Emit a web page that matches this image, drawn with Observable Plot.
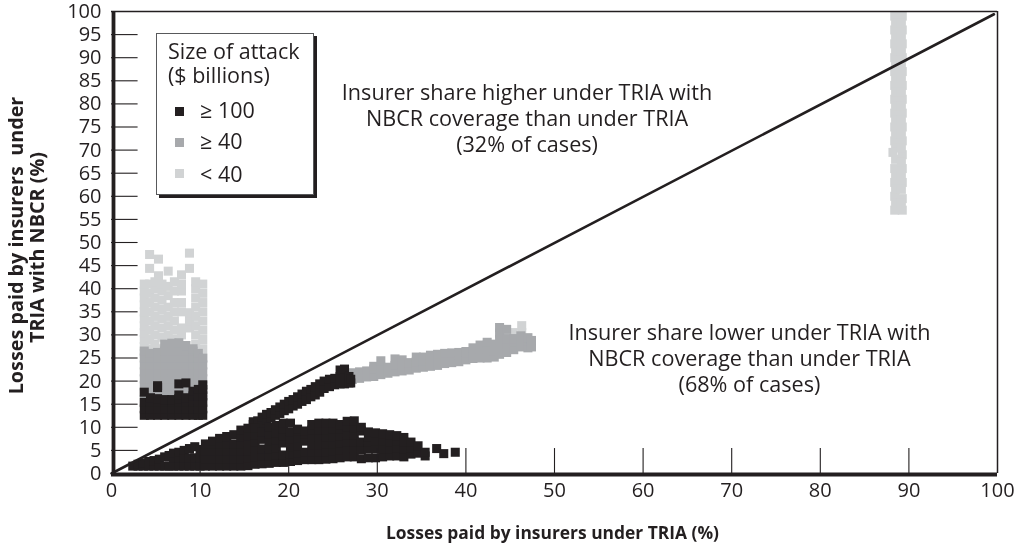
<!DOCTYPE html>
<html><head><meta charset="utf-8">
<script src="https://cdn.jsdelivr.net/npm/d3@7"></script>
<script src="https://cdn.jsdelivr.net/npm/@observablehq/plot@0.6"></script>
<style>
html,body{margin:0;background:#fff;}
#wrap{position:relative;width:1018px;height:546px;overflow:hidden;font-family:"Open Sans",sans-serif;color:#231f20;filter:blur(0.35px);}
#legend{position:absolute;left:156px;top:33px;width:156px;height:160px;background:#fff;border:1px solid #58595b;box-shadow:3px 3px 0 #231f20;font-size:21.5px;line-height:21px;}
#legend .t{position:absolute;left:11px;white-space:nowrap;}
#legend .s{position:absolute;left:18px;width:9px;height:9px;}
</style></head><body><div id="wrap"><div id="chart"></div>
<div id="legend">
<div class="t" style="top:6px">Size of attack</div>
<div class="t" style="top:30px">($ billions)</div>
<div class="s" style="top:73px;background:#231f20"></div><div class="t" style="left:43px;top:65px">≥ 100</div>
<div class="s" style="top:104px;background:#a7a9ac"></div><div class="t" style="left:43px;top:96px">≥ 40</div>
<div class="s" style="top:135px;background:#d1d3d4"></div><div class="t" style="left:43px;top:129px">&lt; 40</div>
</div></div>
<script>
const xTicks=[0,10,20,30,40,50,60,70,80,90,100];
const yTicks=[0,5,10,15,20,25,30,35,40,45,50,55,60,65,70,75,80,85,90,95,100];
const black="#231f20",gray="#a7a9ac",light="#d1d3d4";

const lightBlock=[
[3.7,[26,27.5,29,30.5,32,33.5,35,36.5,38,39.5,41]],
[4.3,[27,29,31,33,35,37,39,41,44.4,47.4]],
[4.9,[26,28,30,32,34,36,38,40,41.5]],
[5.3,[42.8,46.4]],
[5.7,[27,29.5,31.5,33.5,35.5,37.5,39.5,41]],
[6.4,[28,30,32,34,36,38.5,40.5,43.8]],
[7.1,[29,31,33,35,37,39.5,41.5]],
[7.9,[30,31.5,35,37,39.5,41,43]],
[8.8,[31.5,33,34.8,44.4,47.7]],
[9.5,[28,30,32,34,36,38,40,41.5]],
[10.3,[25,27,29,31,33,35,37,39,41]]];
const lightColumn=[
[88.4,[57,60,63,66,72,75,78,81,84,87,90,93,96,99]],
[88.5,[58.5,61.5,64.5,68,70.5,73.5,76.5,79.5,82.5,85.5,88.5,91.5,94.5,97.5]],
[88.2,[69.5]],
[89.25,[57,59.5,63,66,69,72,75,78,81,84,87,90,93,96,99]],
[89.15,[58.5,61.5,64.5,67.5,70.5,73.5,76.5,79.5,82.5,85.5,88.5,91.5,94.5,97.5]]];
const lightTrail=[[46.3,[32,30.5]],[45.3,[30.5]],[44.8,[29.8]]];

const grayBlock=[
[3.7,[16,17.5,19,20.5,22,23.5,25,26.5]],
[4.4,[16,17.5,19,20.5,22,23.5,25,26]],
[5.2,[16,17.5,19,20.5,22,23.5,25,26.2]],
[6.0,[16,17.5,19,20.5,22,23.5,25,26.5,28]],
[6.8,[16,17.5,19,20.5,22,23.5,25,26.5,28.2]],
[7.6,[16,17.5,19,20.5,22,23.5,25,26.5,28.3]],
[8.4,[16,17.5,19,20.5,22,23.5,25,26.5,27.7]],
[9.2,[16,17.5,19,20.5,22,23.5,25,26.5,27]],
[9.8,[16,17.5,19,20.5,22,23.5,25,26]],
[10.3,[16,17.5,19,20.5,22,23.5,25]]];
const grayTrail=[
[27.2,[20.4,21.8]],[28,[20.6,22]],[28.8,[20.9,22.2]],[29.6,[21,22.6,23.2]],[30.4,[21.4,23,24.4]],[31.2,[21.7,23]],
[32,[22,23.4,24.8]],[32.8,[22.2,23.6,24.6]],[33.6,[22.4,24]],[34.4,[22.8,24.2,25.2]],[35.2,[23,24.4,25.2]],[36,[23.2,24.6,25.6]],
[36.8,[23.4,24.8,25.8]],[37.6,[23.8,25.2,26]],[38.4,[24,25.4,26.1]],[39.2,[24.2,25.6,26.2]],[40,[24.6,26,26.4]],
[40.8,[24.9,26.2,27.2]],[41.6,[25,26.4,27.8]],[42.4,[25,26.4,27.8,28.4]],[43.2,[25.2,26.6,28]],
[43.8,[25.8,27.4,29,30.4,31.6]],[44.6,[26.2,27.8,29.2,31.2]],[45.4,[26.8,28.4,29.2]],[46.2,[27.4,29,29.8]],[47,[27.2,28.6,29.4]],[47.4,[27.4,28.8]]];

const blackBlock=[
[3.7,[12.6,14,15.4,17.6]],
[4.4,[12.6,14,15.4,16.4]],
[5.2,[12.6,14,15.4,16.2,18.6,19]],
[6.0,[12.6,14,15.4,16]],
[6.8,[12.6,14,15.4,16]],
[7.6,[12.6,14,15.4,16.2,17,19.4]],
[8.4,[12.6,14,15.4,16.4,19.6]],
[9.2,[12.6,14,15.4,16.8,17.8]],
[9.8,[12.6,14,15.4,16.8,18.2]],
[10.3,[12.6,14,15.4,16.8,18.2,19.2]]];
const blackRidge=[
[16,[10.6,11.2]],[16.5,[11.4]],[17,[10.8,12.2]],[17.5,[11.6,12.8]],[18,[12,13.2]],[18.5,[12.6,13.8]],[19,[13,14.4]],[19.5,[13.6,15]],[20,[14,15.6]],
[20.5,[14.6,16]],[21,[15,16.6]],[21.5,[15.6,17.2]],[22,[16,17.8]],[22.5,[16.6,18.2]],[23,[17,18.8]],[23.5,[17.6,19.4]],[24,[18.4,20]],
[24.6,[18.8,20.4]],[25.2,[19.2,20.6]],[25.8,[19.4,21,22.4]],[26.3,[19.4,21,22.6]],[26.8,[19.6,21]],[27,[19.6,20.4]]];
const blackCluster=[
[2.4,[1.6]],[3,[1.6,2]],[3.6,[1.6,2.3]],[4.2,[1.6,2.6]],[4.8,[1.6,2.8]],[5.4,[1.6,3.1]],[6,[1.6,3.6]],[6.5,[1.6,3.9]],[7,[1.6,3.4,4.4]],[7.6,[1.6,3.4,4.6]],[8.2,[1.6,3.4,5]],
[8.8,[1.6,3.4,5.4]],[9.4,[1.6,3.4,5.8]],[10,[1.6,3.4,5.2]],[10.6,[1.6,3.2,4.8,6.4]],[11.4,[1.6,3.2,4.8,6.4,7]],[12.2,[1.6,3.2,4.8,6.4,7.6]],
[13,[1.6,3.2,4.8,6.4,8]],[13.8,[1.6,3.2,4.8,6.4,8.4]],[14.6,[1.6,3.2,4.8,6.4,8,9.4]],[15.4,[1.7,3.3,4.9,6.5,8.1,9.8]],[16.2,[2,3.6,5.2,6.8,8.4,9.8]],
[17,[2.1,3.7,5.3,7.4,9]],[17.8,[2.2,3.8,5.4,7,8.6,10]],[18.6,[2.4,4,5.6,7.2,8.8,10.4]],[19.4,[2.4,4,6.6,8.2,9.6,10.9]],[20.2,[2.6,4.2,5.8,7.4,9,10.9]],
[21,[2.8,4.4,6,7.6,9.2,9.6]],[21.8,[3,4.6,7,8.6,9.2]],[22.6,[3,4.6,6.2,7.8,9.4,10.6]],[23.4,[3,4.6,6.2,7.8,9.4,10.9]],
[24.2,[3.1,4.7,6.3,7.9,9.5,10.9]],[25,[3.2,4.8,6.4,8,9.6,10.9]],[25.8,[3.4,5,6.6,8.2,9.6,10.6]],[26.6,[3.6,5.2,6.8,8.4,10,11.3]],
[27.4,[3.6,5.2,6.8,8.4,9.8,11.4]],[28.2,[3.2,5.2,6.8,9.2,10]],[29,[3.4,5.4,6.8,7.9,9]],[29.8,[3.4,5.4,7,8.8]],[30.6,[3.6,5.4,7,8.6]],
[31.4,[3.8,5.4,6.8,8.4]],[32.2,[3.8,5.6,7,8.2]],[33,[3.6,5.4,6.8,7.8]],[33.8,[4.2,5.6,6.8]],[34.6,[4.4,6]],[35.4,[3.8,4.6]],
[36.7,[5.4]],[37.5,[4.3]],[38.8,[4.6]]];

const diagX=[0,99.6],diagY=[0,99.4];
const noteX=[46.9,72],noteY=[77,25];
const notes=["Insurer share higher under TRIA with\nNBCR coverage than under TRIA\n(32% of cases)","Insurer share lower under TRIA with\nNBCR coverage than under TRIA\n(68% of cases)"];
const xLabel="Losses paid by insurers under TRIA (%)";
const yLabel1="Losses paid by insurers \u00a0under";
const yLabel2="TRIA with NBCR (%)";

const cols=l=>l.flatMap(([x,ys])=>ys.map(y=>({x,y})));
const sq=(l,c)=>Plot.dot(cols(l),{x:"x",y:"y",symbol:"square",r:5.1,fill:c,stroke:"none",clip:true});
const diag=diagX.map((x,i)=>({x,y:diagY[i]}));
const nt=notes.map((t,i)=>({t,x:noteX[i],y:noteY[i]}));

const plot=Plot.plot({
 width:1018,height:546,marginLeft:111,marginRight:21,marginTop:11,marginBottom:73,
 style:{fontFamily:'"Open Sans",sans-serif',fontSize:"20px",color:black,background:"#fff",overflow:"visible"},
 x:{domain:[0,100],ticks:xTicks},
 y:{domain:[0,100],ticks:yTicks},
 marks:[
  sq(lightBlock,light),sq(lightColumn,light),sq(lightTrail,light),
  sq(grayBlock,gray),sq(grayTrail,gray),
  sq(blackBlock,black),sq(blackRidge,black),sq(blackCluster,black),
  Plot.line(diag,{x:"x",y:"y",stroke:black,strokeWidth:2.6}),
  Plot.ruleY(yTicks.slice(1,-1),{y:d=>d,x1:0,x2:3,stroke:black,strokeWidth:1.1}),
  Plot.ruleX(xTicks.slice(1,-1),{x:d=>d,y1:0,y2:5.4,stroke:black,strokeWidth:1.1}),
  Plot.ruleY([100],{stroke:black,strokeWidth:1.5}),
  Plot.ruleX([100],{stroke:black,strokeWidth:1.5}),
  Plot.ruleX([0],{stroke:black,strokeWidth:3.8,dx:2}),
  Plot.ruleY([0],{stroke:black,strokeWidth:3.8,dy:1}),
  Plot.axisX({ticks:xTicks,tickSize:0,tickPadding:9,label:null,fontSize:20}),
  Plot.axisY({ticks:yTicks,tickSize:0,tickPadding:10,label:null,fontSize:20}),
  Plot.text(nt,{x:"x",y:"y",text:"t",lineHeight:1.21,fontSize:21.6,fill:black,textAnchor:"middle"}),
  Plot.text([xLabel],{frameAnchor:"bottom",dy:65,dx:-2,fontWeight:"bold",fontSize:17.4,fill:black}),
  Plot.text([yLabel1],{frameAnchor:"left",textAnchor:"middle",dx:-95,rotate:-90,fontWeight:"bold",fontSize:19.8,fill:black,dy:3}),
  Plot.text([yLabel2],{frameAnchor:"left",textAnchor:"middle",dx:-74,rotate:-90,fontWeight:"bold",fontSize:19.8,fill:black,dy:5})
 ]
});
document.getElementById("chart").appendChild(plot);
</script></body></html>
